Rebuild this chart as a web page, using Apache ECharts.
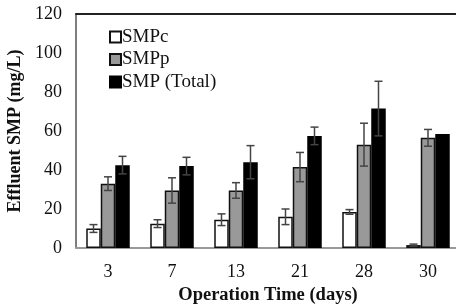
<!DOCTYPE html>
<html>
<head>
<meta charset="utf-8">
<script src="https://cdn.jsdelivr.net/npm/echarts@6/dist/echarts.min.js"></script>
<style>
  html, body { margin: 0; padding: 0; background: #fff; }
  #main { width: 456px; height: 305px; }
</style>
</head>
<body>
<div id="main"></div>
<script>
var days = ['3', '7', '13', '21', '28', '30'];
var smpc = [10, 12.5, 14.5, 16, 18.5, 1.5];
var smpcErr = [2, 2, 3, 4, 1.2, 0.5];
var smpp = [33, 29.5, 29.5, 41.5, 53, 56.5];
var smppErr = [3.5, 6.5, 4, 7.5, 11, 4.3];
var smpTotal = [42.5, 42, 44, 57.5, 71.5, 58.5];
var smpTotalErr = [4.5, 4.5, 8.5, 4.5, 14, 0];

(function () {
    var barW = 14.5;
    var font = 'Liberation Serif, Times New Roman, serif';

    // error bars drawn next to each bar of the group
    var errSeries = function (vals, errs, idx) {
        var data = vals.map(function (v, i) { return [i, v, errs[i]]; });
        return {
            type: 'custom',
            z: 10,
            silent: true,
            data: data,
            renderItem: function (params, api) {
                var i = api.value(0), v = api.value(1), e = api.value(2);
                if (!e) return null;
                var hi = api.coord([i, v + e]);
                var lo = api.coord([i, v - e]);
                var x = hi[0] + (idx - 1) * barW;
                var st = { stroke: '#444', lineWidth: 1.5 };
                return {
                    type: 'group',
                    children: [
                        { type: 'line', shape: { x1: x, y1: hi[1], x2: x, y2: lo[1] }, style: st },
                        { type: 'line', shape: { x1: x - 4, y1: hi[1], x2: x + 4, y2: hi[1] }, style: st },
                        { type: 'line', shape: { x1: x - 4, y1: lo[1], x2: x + 4, y2: lo[1] }, style: st }
                    ]
                };
            }
        };
    };

    var myChart = echarts.init(document.getElementById('main'));
    myChart.setOption({
        animation: false,
        grid: { left: 76, top: 14, right: -4, bottom: 57, outerBoundsMode: 'none', containLabel: false },
        legend: {
            orient: 'vertical',
            left: 104, top: 22,
            itemWidth: 11, itemHeight: 11, itemGap: 2.5,
            icon: 'rect',
            data: ['SMPc', 'SMPp', 'SMP (Total)'],
            textStyle: { fontFamily: font, fontSize: 19, lineHeight: 20, color: '#111', padding: [0, 0, 0, -4] }
        },
        xAxis: [{
            type: 'category',
            data: days,
            name: 'Operation Time (days)',
            nameLocation: 'middle',
            nameGap: 38,
            nameTextStyle: { fontFamily: font, fontSize: 18.5, fontWeight: 'bold', color: '#111' },
            axisLine: { lineStyle: { color: '#999', width: 2 } },
            axisTick: { show: false },
            axisLabel: { fontFamily: font, fontSize: 18, color: '#111', margin: 15 }
        }, {
            // top frame line
            type: 'category',
            data: days,
            position: 'top',
            axisLine: { show: true, lineStyle: { color: '#222', width: 2 } },
            axisTick: { show: false },
            axisLabel: { show: false }
        }],
        yAxis: {
            type: 'value',
            min: 0, max: 120, interval: 20,
            name: 'Effluent SMP (mg/L)',
            nameLocation: 'middle',
            nameGap: 51,
            nameTextStyle: { fontFamily: font, fontSize: 18, fontWeight: 'bold', color: '#111' },
            axisLine: { show: true, onZero: false, lineStyle: { color: '#555', width: 1.5 } },
            axisTick: { show: false },
            splitLine: { show: false },
            axisLabel: { fontFamily: font, fontSize: 18, color: '#111', margin: 14 }
        },
        series: [
            {
                name: 'SMPc', type: 'bar', data: smpc,
                barWidth: barW, barGap: '0%',
                itemStyle: { color: '#fff', borderColor: '#111', borderWidth: 1.5 }
            },
            {
                name: 'SMPp', type: 'bar', data: smpp,
                barWidth: barW, barGap: '0%',
                itemStyle: { color: '#999', borderColor: '#111', borderWidth: 1.5 }
            },
            {
                name: 'SMP (Total)', type: 'bar', data: smpTotal,
                barWidth: barW, barGap: '0%',
                itemStyle: { color: '#000', borderColor: '#000', borderWidth: 1.5 }
            },
            errSeries(smpc, smpcErr, 0),
            errSeries(smpp, smppErr, 1),
            errSeries(smpTotal, smpTotalErr, 2)
        ]
    });
})();
</script>
</body>
</html>
